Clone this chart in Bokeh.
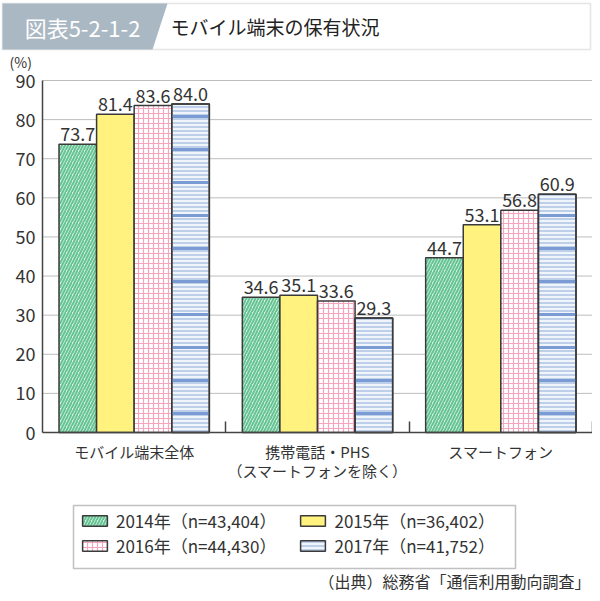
from bokeh.plotting import figure
from bokeh.models import (ColumnDataSource, FixedTicker, Label, LabelSet, PolyAnnotation,
                          Legend, LegendItem, Range1d, LinearAxis)
from bokeh.transform import dodge
from bokeh.core.properties import value
from bokeh.embed import file_html
from bokeh.resources import INLINE

# ---------------- data ----------------
categories = ["モバイル端末全体", "携帯電話・PHS\n（スマートフォンを除く）", "スマートフォン"]
series_names = ["2014年（n=43,404）", "2015年（n=36,402）", "2016年（n=44,430）", "2017年（n=41,752）"]
v2014 = [73.7, 34.6, 44.7]
v2015 = [81.4, 35.1, 53.1]
v2016 = [83.6, 33.6, 56.8]
v2017 = [84.0, 29.3, 60.9]
y_ticks = [0, 10, 20, 30, 40, 50, 60, 70, 80, 90]
title_tag = "図表5-2-1-2"
title_text = "モバイル端末の保有状況"
unit_text = "(%)"
source_text = "（出典）総務省「通信利用動向調査」"

FONT = "Noto Sans CJK JP"
TXT = "#333333"

# ---------------- layout constants (canvas pixels) ----------------
W, H = 592, 593
AX_L, AX_R, AX_T, AX_B = 42, 592, 80, 432      # plotting area of the chart
ppu = (AX_R - AX_L) / 3.0
ppy = (AX_B - AX_T) / 90.0

idx = list(range(len(categories)))
data = dict(x=idx)
for key, vals in (("v2014", v2014), ("v2015", v2015), ("v2016", v2016), ("v2017", v2017)):
    data[key] = vals
    data["t" + key] = [f"{v:.1f}" for v in vals]
src = ColumnDataSource(data)

p = figure(width=W, height=H, output_backend="svg", toolbar_location=None,
           x_range=Range1d(-0.5 - AX_L / ppu, 2.5 + (W - AX_R) / ppu),
           y_range=Range1d(-(H - AX_B) / ppy, AX_B / ppy),
           x_axis_location=None, y_axis_location=None,
           min_border_left=0, min_border_right=0, min_border_top=0, min_border_bottom=0)
p.outline_line_color = None
p.background_fill_color = "white"
p.border_fill_color = "white"
p.grid.visible = False

# horizontal grid lines at the y ticks, limited to the chart area
gsrc = ColumnDataSource(dict(y=y_ticks[1:]))
p.segment(x0=-0.5, x1=2.5, y0="y", y1="y", source=gsrc, line_color="#bdbdbd",
          line_width=1, level="underlay")

# y axis
yaxis = LinearAxis(fixed_location=-0.5, bounds=(0, 90), ticker=FixedTicker(ticks=y_ticks))
yaxis.major_tick_in = 0
yaxis.major_tick_out = 0
yaxis.minor_tick_in = 0
yaxis.minor_tick_out = 0
yaxis.axis_line_color = "#444444"
yaxis.axis_line_width = 1.5
yaxis.major_label_standoff = 7
yaxis.major_label_text_font = FONT
yaxis.major_label_text_font_size = "18px"
yaxis.major_label_text_color = TXT
p.add_layout(yaxis, "left")

# x axis
xaxis = LinearAxis(fixed_location=0, bounds=(-0.5, 2.5),
                   ticker=FixedTicker(ticks=idx, minor_ticks=[0.5, 1.5, 2.5]))
xaxis.major_label_overrides = {i: c for i, c in zip(idx, categories)}
xaxis.major_tick_in = 0
xaxis.major_tick_out = 0
xaxis.minor_tick_in = 11
xaxis.minor_tick_out = 0
xaxis.minor_tick_line_color = "#444444"
xaxis.minor_tick_line_width = 1.5
xaxis.axis_line_color = "#444444"
xaxis.axis_line_width = 1.5
xaxis.major_label_standoff = 8
xaxis.major_label_text_font = FONT
xaxis.major_label_text_font_size = "15px"
xaxis.major_label_text_line_height = 0.92
xaxis.major_label_text_color = TXT
p.add_layout(xaxis, "below")

BW = 0.205
offs = [-1.5 * BW, -0.5 * BW, 0.5 * BW, 1.5 * BW]
styles = [
    dict(fill_color="#d9f2e3", hatch_pattern="/", hatch_color="#66c494", hatch_scale=6, hatch_weight=2),
    dict(fill_color="#fff27e"),
    dict(fill_color="#ffffff", hatch_pattern="+", hatch_color="#f4a6be", hatch_scale=5, hatch_weight=1.2),
    dict(fill_color="#f0f4fb", hatch_pattern="-", hatch_color="#a9bfe2", hatch_scale=4, hatch_weight=1.4),
]
keys = ["v2014", "v2015", "v2016", "v2017"]
renderers = []
for k, off, st in zip(keys, offs, styles):
    xs = dodge("x", off, range=p.x_range)
    r = p.vbar(x=xs, top=k, width=BW, bottom=0, source=src,
               line_color="#3a3a3a", line_width=1.5, **st)
    renderers.append(r)
    if k == "v2017":
        p.vbar(x=xs, top=k, width=BW, bottom=0, source=src,
               fill_color=None, line_color=None, hatch_pattern="-", hatch_color="#7a9bd3",
               hatch_scale=33, hatch_weight=3)
        p.vbar(x=xs, top=k, width=BW, bottom=0, source=src,
               fill_color=None, line_color="#3a3a3a", line_width=1.5)
    p.add_layout(LabelSet(x=xs, y=k, text="t" + k, source=src,
                          y_offset=3, text_align="center", text_baseline="bottom",
                          text_font=value(FONT), text_font_size="18px", text_color=TXT))

# screen coordinates: x from canvas left, y up from canvas bottom
def sx(px):
    return px
def sy(py):
    return H - py

# legend: outer box + two rows
p.add_layout(PolyAnnotation(xs=[sx(73), sx(515), sx(515), sx(73)], ys=[sy(505), sy(505), sy(568), sy(568)],
                            xs_units="screen", ys_units="screen", fill_color="white", fill_alpha=1,
                            line_color="#333333", line_width=1.5))
leg_common = dict(orientation="horizontal", glyph_width=31, glyph_height=13, label_standoff=6,
                  spacing=21, padding=10, label_height=20, label_text_font=FONT,
                  label_text_font_size="17px", label_text_color=TXT, border_line_color=None,
                  background_fill_alpha=0, margin=0)
leg1 = Legend(items=[LegendItem(label=series_names[0], renderers=[renderers[0]]),
                     LegendItem(label=series_names[1], renderers=[renderers[1]])],
              location=(sx(79), sy(533)), **leg_common)
leg2 = Legend(items=[LegendItem(label=series_names[2], renderers=[renderers[2]]),
                     LegendItem(label=series_names[3], renderers=[renderers[3]])],
              location=(sx(79), sy(558)), **leg_common)
p.add_layout(leg1)
p.add_layout(leg2)

# title band
p.add_layout(PolyAnnotation(xs=[sx(2), sx(590), sx(590), sx(2)], ys=[sy(3), sy(3), sy(49), sy(49)],
                            xs_units="screen", ys_units="screen", fill_color="white", fill_alpha=1,
                            line_color="#a8a8a8", line_width=1.5))
p.add_layout(PolyAnnotation(xs=[sx(2), sx(167), sx(152), sx(2)], ys=[sy(3), sy(3), sy(49), sy(49)],
                            xs_units="screen", ys_units="screen", fill_color="#a9b8c3", fill_alpha=1,
                            line_color=None))
p.add_layout(Label(x=sx(82), y=sy(26), x_units="screen", y_units="screen", text=title_tag,
                   text_align="center", text_baseline="middle", text_font=FONT,
                   text_font_size="22px", text_color="white"))
p.add_layout(Label(x=sx(170), y=sy(26), x_units="screen", y_units="screen", text=title_text,
                   text_align="left", text_baseline="middle", text_font=FONT,
                   text_font_size="19px", text_color="#222222"))
p.add_layout(Label(x=sx(9), y=sy(61), x_units="screen", y_units="screen", text=unit_text,
                   text_align="left", text_baseline="middle", text_font=FONT,
                   text_font_size="14px", text_color=TXT))
p.add_layout(Label(x=sx(590), y=sy(580), x_units="screen", y_units="screen", text=source_text,
                   text_align="right", text_baseline="middle", text_font=FONT,
                   text_font_size="16px", text_color=TXT))

open("out.html", "w").write(file_html(p, INLINE))
